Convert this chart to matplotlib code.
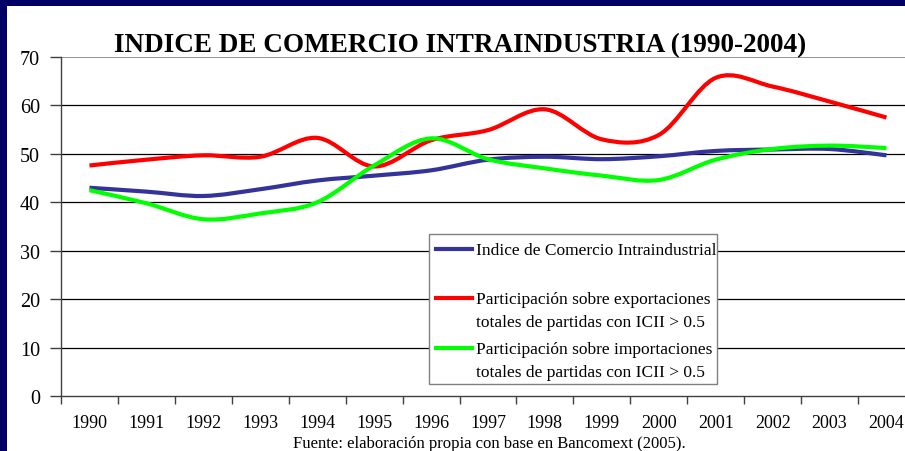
import numpy as np
import matplotlib
matplotlib.use("Agg")
import matplotlib.pyplot as plt
from matplotlib.path import Path
from matplotlib.patches import PathPatch, Rectangle
from matplotlib.lines import Line2D

plt.rcParams["font.family"] = "Liberation Serif"

years = [str(y) for y in range(1990, 2005)]
indice = [43.0, 42.2, 41.3, 42.7, 44.5, 45.5, 46.6, 48.8, 49.4, 48.9,
          49.5, 50.6, 50.9, 51.0, 49.7]
exportaciones = [47.6, 48.8, 49.7, 49.4, 53.3, 47.4, 52.8, 54.9, 59.2, 53.0,
                 53.9, 65.7, 63.9, 60.8, 57.5]
importaciones = [42.5, 39.8, 36.5, 37.7, 40.0, 47.6, 53.2, 48.9, 47.0, 45.5,
                 44.6, 48.8, 51.0, 51.7, 51.2]
labels = ["Indice de Comercio Intraindustrial",
          "Participación sobre exportaciones\ntotales de partidas con ICII > 0.5",
          "Participación sobre importaciones\ntotales de partidas con ICII > 0.5"]
colors = ["#333399", "#FF0000", "#00FF00"]
yticks = [0, 10, 20, 30, 40, 50, 60, 70]

W, H = 905, 452


def smooth_path(x, y):
    """Excel-like smoothed line: cubic Bezier through every point."""
    pts = np.column_stack([x, y]).astype(float)
    n = len(pts)
    verts = [pts[0]]
    codes = [Path.MOVETO]
    for i in range(n - 1):
        p0 = pts[max(i - 1, 0)]
        p1, p2 = pts[i], pts[i + 1]
        p3 = pts[min(i + 2, n - 1)]
        verts += [p1 + (p2 - p0) / 6, p2 - (p3 - p1) / 6, p2]
        codes += [Path.CURVE4] * 3
    return Path(verts, codes)


fig = plt.figure(figsize=(W / 100, H / 100), dpi=100)
# axes: left spine x=61px, bottom y=397px, top y=58px, 57px per category
ax = fig.add_axes([61 / W, 1 - 397 / H, 15 * 56.93 / W, 339 / H])
x = np.arange(len(years)) + 0.5
for vals, c in zip([indice, exportaciones, importaciones], colors):
    ax.add_patch(PathPatch(smooth_path(x, vals), fill=False, edgecolor=c,
                           lw=3.0, capstyle="butt", joinstyle="round", zorder=3))

ax.set_xlim(0, 15)
ax.set_ylim(0, 70)
ax.set_yticks(yticks)
ax.set_yticklabels([str(v) for v in yticks], fontsize=14.5)
ax.tick_params(axis="y", direction="out", length=8, width=1, color="#404040", pad=7)
ax.set_xticks(np.arange(0, 15))
ax.set_xticklabels([])
ax.set_xticks(x, minor=True)
ax.set_xticklabels(years, minor=True, fontsize=13)
ax.tick_params(axis="x", which="major", direction="out", length=6, width=1,
               color="#404040")
ax.tick_params(axis="x", which="minor", length=0, pad=13)
for v in yticks[1:-1]:
    ax.axhline(v, color="black", lw=0.9, zorder=1)
ax.axhline(70, color="#808080", lw=1.2, zorder=1)
for s in ["top", "right"]:
    ax.spines[s].set_visible(False)
for s in ["left", "bottom"]:
    ax.spines[s].set_color("#404040")
    ax.spines[s].set_linewidth(1.0)

fig.text(460 / W, 1 - 52 / H, "INDICE DE COMERCIO INTRAINDUSTRIA (1990-2004)",
         ha="center", va="baseline", fontsize=19.5, fontweight="bold")
fig.text(489 / W, 1 - 448 / H,
         "Fuente: elaboración propia con base en Bancomext (2005).",
         ha="center", va="baseline", fontsize=12)

# legend box, drawn by hand to match the slide layout
fig.add_artist(Rectangle((429 / W, 1 - 385 / H), 288 / W, 150 / H,
                         transform=fig.transFigure, facecolor="white",
                         edgecolor="#808080", lw=1.0, zorder=5))
for lab, c, ly in zip(labels, colors, [250, 299, 349]):
    fig.add_artist(Line2D([436 / W, 472 / W], [1 - ly / H, 1 - ly / H],
                          transform=fig.transFigure, color=c, lw=3.0, zorder=6))
    fig.text(476 / W, 1 - (ly - 7) / H, lab, ha="left", va="top",
             fontsize=12.5, linespacing=1.55, zorder=6)

# slide frame (navy band on top and left)
fig.add_artist(Rectangle((0, 1 - 7 / H), 1, 7 / H, transform=fig.transFigure,
                         facecolor="#000066", edgecolor="none", zorder=10))
fig.add_artist(Rectangle((0, 0), 7 / W, 1, transform=fig.transFigure,
                         facecolor="#000066", edgecolor="none", zorder=10))

fig.savefig("out.png", dpi=100)
